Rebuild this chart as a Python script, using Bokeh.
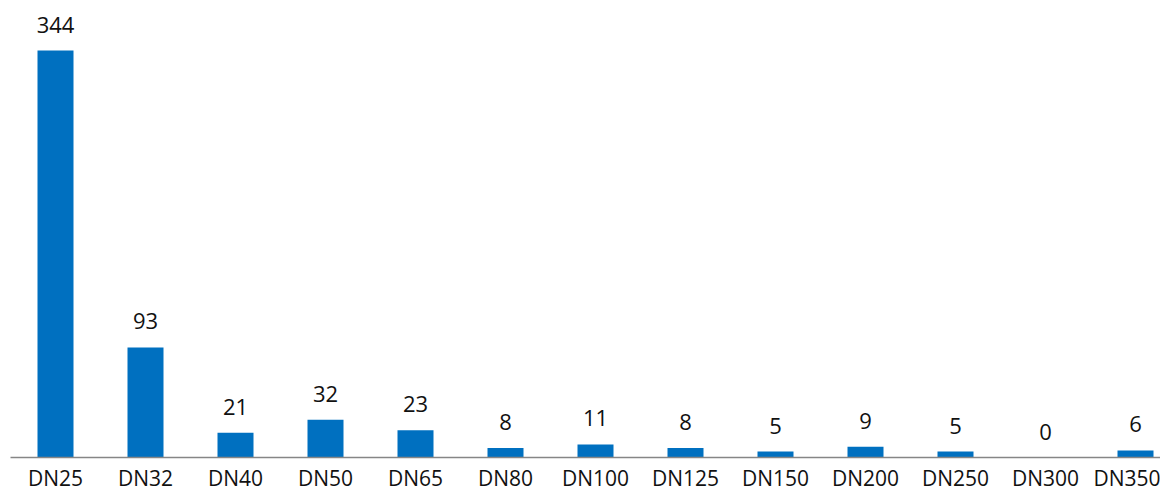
from bokeh.plotting import figure
from bokeh.models import ColumnDataSource, Range1d, FixedTicker
from bokeh.core.properties import value
from bokeh.embed import file_html
from bokeh.resources import INLINE

categories = ["DN25", "DN32", "DN40", "DN50", "DN65", "DN80", "DN100",
              "DN125", "DN150", "DN200", "DN250", "DN300", "DN350"]
counts = [344, 93, 21, 32, 23, 8, 11, 8, 5, 9, 5, 0, 6]

positions = list(range(len(categories)))
source = ColumnDataSource(dict(x=positions, v=counts, label=[str(c) for c in counts]))

W, H = 1160, 494
p = figure(width=W, height=H, output_backend="svg", toolbar_location=None,
           x_range=Range1d(-0.5, -0.5 + 1150 / 90.0), y_range=Range1d(0, 384.6),
           y_axis_location=None, min_border_left=10, min_border_right=0,
           min_border_top=2, min_border_bottom=0)
p.outline_line_color = None
p.xgrid.visible = False
p.ygrid.visible = False
p.background_fill_color = "white"
p.border_fill_color = "white"

p.vbar(x="x", top="v", width=0.4, source=source, fill_color="#0070C0", line_color=None)
p.text(x="x", y="v", text="label", source=source, text_align="center",
       text_baseline="alphabetic", y_offset=-26, text_font=value("Open Sans"),
       text_font_size="22px", text_color="#111111")

ax = p.xaxis[0]
ax.ticker = FixedTicker(ticks=positions)
ax.major_label_overrides = {i: c for i, c in enumerate(categories)}
ax.major_tick_line_color = None
ax.minor_tick_line_color = None
ax.major_tick_out = 0
ax.major_tick_in = 0
ax.axis_line_color = "#868686"
ax.axis_line_width = 1.5
ax.major_label_standoff = 6
ax.major_label_text_font = "Open Sans"
ax.major_label_text_font_size = "21px"
ax.major_label_text_color = "#111111"

open("out.html", "w").write(file_html(p, INLINE))
